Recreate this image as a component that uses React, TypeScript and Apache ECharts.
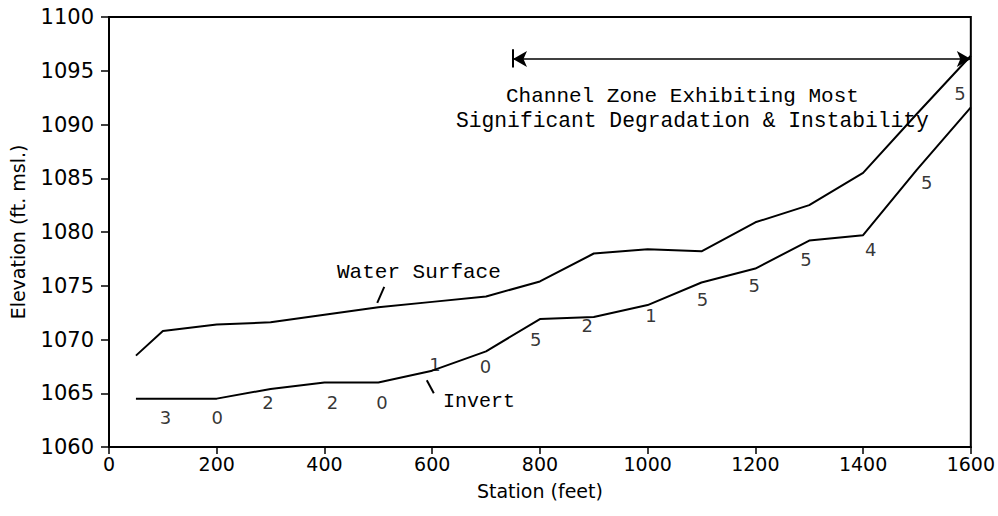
import React, { useEffect, useRef } from "react";
import * as echarts from "echarts";

const stations = [50, 100, 200, 300, 400, 500, 600, 700, 800, 900, 1000, 1100, 1200, 1300, 1400, 1500, 1600];
const waterSurface = [1068.5, 1070.8, 1071.4, 1071.6, 1072.3, 1073.0, 1073.5, 1074.0, 1075.4, 1078.0, 1078.4, 1078.2, 1080.9, 1082.5, 1085.5, 1091.0, 1096.4];
const invert = [1064.5, 1064.5, 1064.5, 1065.4, 1066.0, 1066.0, 1067.1, 1068.9, 1071.9, 1072.1, 1073.2, 1075.3, 1076.6, 1079.2, 1079.7, 1085.8, 1091.6];

const numStations = [105, 201, 295, 415, 507, 605, 699, 792, 888, 1006, 1102, 1198, 1294, 1414, 1518, 1580];
const numElev = [1062.7, 1062.7, 1064.1, 1064.1, 1064.1, 1067.7, 1067.5, 1070.0, 1071.3, 1072.2, 1073.7, 1075.0, 1077.4, 1078.4, 1084.6, 1092.9];
const numTexts = ["3", "0", "2", "2", "0", "1", "0", "5", "2", "1", "5", "5", "5", "4", "5", "5"];

const zoneStart = 750;
const zoneEnd = 1600;
const zoneElev = 1096.1;

const xTicks = [0, 200, 400, 600, 800, 1000, 1200, 1400, 1600];
const yTicks = [1060, 1065, 1070, 1075, 1080, 1085, 1090, 1095, 1100];

const SANS = "DejaVu Sans";
const MONO = "Liberation Mono";

export default function App() {
  const ref = useRef<HTMLDivElement>(null);
  useEffect(() => {
    document.body.style.margin = "0";
    if (!ref.current) return;
    const chart = echarts.init(ref.current, undefined, { renderer: "svg" });
    const lineStyle = { color: "#000", width: 2 };
    chart.setOption({
      animation: false,
      backgroundColor: "#fff",
      grid: { left: 108, right: 23, top: 17, bottom: 69, show: true, borderColor: "#000", borderWidth: 2 },
      xAxis: {
        type: "value",
        min: xTicks[0],
        max: xTicks[xTicks.length - 1],
        interval: 200,
        name: "Station (feet)",
        nameLocation: "middle",
        nameGap: 34,
        nameTextStyle: { fontFamily: SANS, fontSize: 19, color: "#000" },
        axisLine: { show: true, lineStyle: { color: "#000", width: 2 } },
        axisTick: { show: true, length: 7, lineStyle: { color: "#000", width: 1.5 } },
        axisLabel: { fontFamily: SANS, fontSize: 19, color: "#000", margin: 7, formatter: (v: number) => String(v) },
        splitLine: { show: false },
      },
      yAxis: {
        type: "value",
        min: yTicks[0],
        max: yTicks[yTicks.length - 1],
        interval: 5,
        name: "Elevation (ft. msl.)",
        nameLocation: "middle",
        nameGap: 82,
        nameTextStyle: { fontFamily: SANS, fontSize: 19, color: "#000" },
        axisLine: { show: true, lineStyle: { color: "#000", width: 2 } },
        axisTick: { show: true, length: 8, lineStyle: { color: "#000", width: 1.5 } },
        axisLabel: { fontFamily: SANS, fontSize: 21, color: "#000", margin: 15, formatter: (v: number) => String(v) },
        splitLine: { show: false },
      },
      series: [
        {
          name: "Water Surface",
          type: "line",
          data: stations.map((s, i) => [s, waterSurface[i]]),
          symbol: "none",
          lineStyle,
          markLine: {
            silent: true,
            symbol: ["arrow", "arrow"],
            symbolSize: [12, 14],
            lineStyle: { color: "#000", width: 1.5, type: "solid" },
            label: { show: false },
            data: [
              [
                { coord: [zoneStart, zoneElev] },
                { coord: [zoneEnd, zoneElev] },
              ],
            ],
          },
        },
        {
          name: "Invert",
          type: "line",
          data: stations.map((s, i) => [s, invert[i]]),
          symbol: "none",
          lineStyle,
          markLine: {
            silent: true,
            symbol: ["none", "none"],
            lineStyle: { color: "#000", width: 2, type: "solid" },
            label: { show: false },
            data: [
              [
                { coord: [zoneStart, zoneElev - 0.8] },
                { coord: [zoneStart, zoneElev + 0.9] },
              ],
              [
                { coord: [511, 1074.9] },
                { coord: [498, 1073.4] },
              ],
              [
                { coord: [590, 1066.2] },
                { coord: [603, 1065.0] },
              ],
            ],
          },
        },
        {
          type: "scatter",
          data: numStations.map((s, i) => [s, numElev[i], numTexts[i]]),
          symbolSize: 0,
          itemStyle: { color: "#000" },
          label: {
            show: true,
            position: "inside",
            formatter: (p: any) => p.data[2],
            fontFamily: SANS,
            fontSize: 18,
            color: "#000",
            textBorderWidth: 0,
          },
        },
      ],
      graphic: [
        {
          type: "text",
          left: 337,
          top: 262,
          style: { text: "Water Surface", font: `21px '${MONO}'`, fill: "#000" },
        },
        {
          type: "text",
          left: 443,
          top: 391,
          style: { text: "Invert", font: `20px '${MONO}'`, fill: "#000" },
        },
        {
          type: "text",
          left: 506,
          top: 86,
          style: { text: "Channel Zone Exhibiting Most", font: `21px '${MONO}'`, fill: "#000" },
        },
        {
          type: "text",
          left: 456,
          top: 110,
          style: { text: "Significant Degradation & Instability", font: `21.3px '${MONO}'`, fill: "#000" },
        },
      ],
    });
    return () => chart.dispose();
  }, []);
  return <div ref={ref} style={{ width: 998, height: 516 }} />;
}
